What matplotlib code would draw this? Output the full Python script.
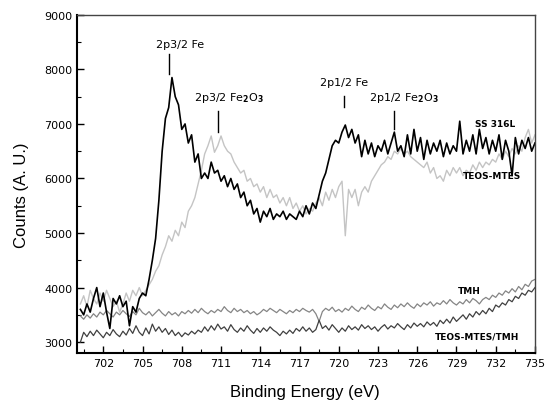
import numpy as np
import matplotlib
matplotlib.use("Agg")
import matplotlib.pyplot as plt
from matplotlib.ticker import MultipleLocator

# binding energy grid, 0.25 eV steps from 700.25 to 735.0
energy = 700.25 + 0.25 * np.arange(140)

# counts, 4 values per eV
ss316l = [
    3600, 3500, 3700, 3550, 3800, 4000, 3650, 3900, 3550, 3250, 3800, 3700,
    3850, 3650, 3750, 3300, 3650, 3550, 3800, 3900, 3850, 4150, 4500, 4900,
    5600, 6500, 7100, 7300, 7850, 7500, 7350, 6900, 7000, 6650, 6800, 6300,
    6450, 6000, 6100, 6000, 6300, 6100, 6150, 5950, 6050, 5850, 6000, 5800,
    5900, 5650, 5750, 5500, 5600, 5350, 5450, 5200, 5400, 5300, 5450, 5250,
    5350, 5300, 5400, 5250, 5350, 5300, 5250, 5400, 5300, 5500, 5350, 5550,
    5450, 5700, 5950, 6100, 6350, 6600, 6700, 6650, 6850, 6980, 6750, 6900,
    6650, 6800, 6400, 6700, 6450, 6650, 6400, 6600, 6500, 6700, 6450, 6650,
    6850, 6500, 6600, 6400, 6800, 6450, 6900, 6500, 6750, 6350, 6700, 6450,
    6650, 6500, 6700, 6400, 6650, 6450, 6600, 6500, 7050, 6450, 6700, 6500,
    6800, 6450, 6900, 6550, 6750, 6450, 6700, 6500, 6800, 6350, 6700, 6500,
    6050, 6750, 6450, 6700, 6550, 6750, 6500, 6650,
]
teos_mtes = [
    3700, 3850, 3650, 3950, 3800, 3700, 3900, 3750, 3950, 3800, 3650, 3750,
    3550, 3700, 3900, 3750, 3950, 3850, 4000, 3850, 3950, 4050, 4150, 4300,
    4400, 4600, 4750, 4950, 4850, 5050, 4950, 5200, 5100, 5400, 5500, 5650,
    5900, 6150, 6450, 6600, 6780, 6480, 6600, 6780, 6600, 6500, 6450, 6300,
    6200, 6100, 6150, 5950, 6000, 5850, 5900, 5750, 5850, 5650, 5800, 5650,
    5700, 5550, 5650, 5500, 5650, 5450, 5550, 5400, 5500, 5350, 5450, 5400,
    5550, 5650, 5500, 5750, 5600, 5800, 5650, 5850, 5950, 4950, 5800, 5650,
    5800, 5500, 5750, 5850, 5750, 5950, 6050, 6150, 6250, 6300, 6400, 6350,
    6500, 6450, 6550, 6450, 6500, 6400, 6350, 6300, 6250, 6200, 6300, 6100,
    6200, 6000, 6050, 5950, 6150, 6050, 6200, 6100, 6200, 6050, 6150, 6100,
    6250, 6150, 6300, 6200, 6300, 6250, 6350, 6300, 6450, 6350, 6500, 6400,
    6550, 6450, 6600, 6500, 6750, 6900, 6650, 6800,
]
tmh = [
    3480, 3420, 3500, 3440, 3520, 3460, 3550, 3500, 3580, 3520, 3460, 3550,
    3500, 3580, 3520, 3470, 3560, 3500, 3620, 3540, 3500, 3560, 3480, 3540,
    3600, 3530, 3480, 3560, 3500, 3540, 3480, 3560, 3520, 3580, 3530, 3600,
    3540, 3620, 3560, 3520, 3580, 3540, 3600, 3560, 3650, 3580, 3540, 3620,
    3560, 3600, 3540, 3580, 3520, 3560, 3500, 3540, 3600, 3560, 3620, 3580,
    3540, 3600, 3560, 3520, 3580, 3540, 3600, 3560, 3620, 3580, 3550, 3600,
    3520, 3380, 3560, 3620, 3580, 3640, 3560, 3600, 3550, 3620, 3580, 3660,
    3600, 3560, 3640, 3600, 3680, 3620, 3580, 3650, 3610, 3700, 3640, 3600,
    3680, 3630, 3700, 3650, 3720, 3660, 3620, 3700, 3650, 3720, 3680, 3740,
    3660, 3720, 3690, 3760, 3700, 3780, 3720, 3680, 3740, 3700, 3780, 3720,
    3800, 3760, 3700, 3780, 3820, 3780, 3860, 3820, 3900, 3860, 3940, 3900,
    3980, 3920, 4020, 3960, 4060, 4020, 4120, 4150,
]
teos_mtes_tmh = [
    3000, 3180, 3100, 3200, 3120, 3220, 3150, 3080, 3180, 3120, 3230, 3150,
    3100, 3200, 3130, 3250, 3160, 3300, 3180, 3120, 3260, 3150, 3330, 3200,
    3280, 3180, 3250, 3140, 3220, 3120, 3180, 3100, 3170, 3130, 3200, 3150,
    3220, 3180, 3280, 3200, 3300, 3220, 3330, 3240, 3280, 3200, 3320, 3230,
    3180, 3260, 3200, 3300, 3220, 3160, 3250, 3180, 3260, 3200, 3280, 3220,
    3180, 3120, 3200, 3150, 3220, 3160, 3250, 3200, 3280, 3200, 3260, 3180,
    3230, 3400, 3250, 3300, 3220, 3320, 3250, 3180, 3260, 3200, 3300, 3230,
    3280, 3220, 3320, 3250, 3300, 3230, 3280, 3200, 3270, 3320, 3240, 3300,
    3260, 3340, 3280, 3230, 3320, 3260, 3350, 3290, 3340, 3280, 3370, 3310,
    3360, 3290, 3400, 3340, 3420, 3350, 3460, 3380, 3440, 3500, 3420, 3520,
    3460, 3560, 3500, 3580, 3520, 3620, 3560, 3680, 3640, 3720, 3680, 3780,
    3740, 3840, 3800, 3900, 3860, 3950, 3920, 4000,
]

# peak labels: text, marker x, marker bottom, marker top, text x, text y
peak_names = ["2p3/2 Fe", "2p3/2 Fe$_\\mathbf{2}$O$_\\mathbf{3}$",
              "2p1/2 Fe", "2p1/2 Fe$_\\mathbf{2}$O$_\\mathbf{3}$"]
peak_pos = [707.0, 710.8, 720.4, 724.2]
mark_low = [7920, 6850, 7310, 6910]
mark_high = [8290, 7240, 7520, 7240]
text_x = [707.9, 711.6, 720.4, 725.0]
text_y = [8470, 7500, 7770, 7500]

# curve names at the right-hand end
curve_names = ["SS 316L", "TEOS-MTES", "TMH", "TEOS-MTES/TMH"]
name_x = [730.4, 729.5, 729.1, 727.35]
name_y = [7000, 6050, 3950, 3110]

fig = plt.figure(figsize=(5.47, 4.06), dpi=100)
ax = fig.add_axes([0.141, 0.128, 0.837, 0.833])

ax.plot(energy, teos_mtes, color="#c4c4c4", lw=1.0)
ax.plot(energy, tmh, color="#858585", lw=0.9)
ax.plot(energy, teos_mtes_tmh, color="#404040", lw=0.9)
ax.plot(energy, ss316l, color="black", lw=1.2)

for name, px, lo, hi, tx, ty in zip(peak_names, peak_pos, mark_low, mark_high, text_x, text_y):
    ax.plot([px, px], [lo, hi], color="black", lw=1.0)
    ax.text(tx, ty, name, ha="center", va="center", fontsize=8)

for name, nx, ny in zip(curve_names, name_x, name_y):
    ax.text(nx, ny, name, fontsize=6.5, fontweight="bold", ha="left", va="center")

ax.set_xlim(700, 735)
ax.set_ylim(2800, 9000)
ax.set_xticks(np.arange(702, 736, 3))
ax.xaxis.set_minor_locator(MultipleLocator(1.5))
ax.yaxis.set_major_locator(MultipleLocator(1000))
ax.yaxis.set_minor_locator(MultipleLocator(500))
ax.tick_params(which="both", direction="in", labelsize=8)
ax.tick_params(which="major", length=5, width=1)
ax.tick_params(which="minor", length=3, width=0.8)

for side in ["left", "bottom"]:
    ax.spines[side].set_linewidth(1.5)
for side in ["top", "right"]:
    ax.spines[side].set_linewidth(1.0)
    ax.spines[side].set_color("#444444")

ax.set_xlabel("Binding Energy (eV)", fontsize=12, family="Liberation Sans")
ax.set_ylabel("Counts (A. U.)", fontsize=12, family="Liberation Sans")
ax.xaxis.set_label_coords(0.497, -0.093)
ax.yaxis.set_label_coords(-0.105, 0.47)

fig.savefig("out.png", dpi=100)
